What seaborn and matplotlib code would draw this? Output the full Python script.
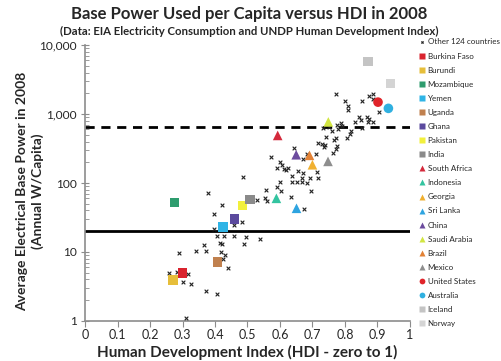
import pandas as pd
import seaborn as sns
import matplotlib.pyplot as plt
from matplotlib.ticker import FixedLocator, LogLocator, NullFormatter

# === Data ===
countries = ["Burkina Faso", "Burundi", "Mozambique", "Yemen", "Uganda", "Ghana",
             "Pakistan", "India", "South Africa", "Indonesia", "Georgia", "Sri Lanka",
             "China", "Saudi Arabia", "Brazil", "Mexico", "United States", "Australia",
             "Iceland", "Norway"]
country_hdi = [0.30, 0.27, 0.275, 0.424, 0.408, 0.46, 0.485, 0.507, 0.593, 0.589,
               0.70, 0.651, 0.65, 0.749, 0.691, 0.748, 0.902, 0.934, 0.872, 0.94]
country_power = [5.0, 3.9, 52, 23, 7.2, 30, 47, 58, 490, 60,
                 184, 43, 257, 770, 252, 206, 1490, 1210, 5800, 2780]
country_marker = ["s"] * 8 + ["^"] * 8 + ["o", "o", "s", "s"]
country_color = ["#D9232E", "#E6BE3A", "#2E9C6E", "#2FB4E6", "#C0804E", "#5B4A9E",
                 "#F2F03C", "#8A8A8A", "#D42A3C", "#33C4A0", "#F0B030", "#2EA4E0",
                 "#6C4C9E", "#D2E642", "#E28236", "#8E8E8E", "#E0242A", "#30B0E0",
                 "#C4C4C4", "#D4D4D4"]

other_hdi = [0.772, 0.80, 0.811, 0.811, 0.853, 0.874, 0.888, 0.888, 0.905, 0.868,
             0.873, 0.842, 0.831, 0.851, 0.888, 0.872, 0.852, 0.732, 0.819, 0.815,
             0.773, 0.808, 0.742, 0.766, 0.716, 0.728, 0.738, 0.735, 0.777, 0.772,
             0.764, 0.642, 0.682, 0.71, 0.573, 0.672, 0.60, 0.607, 0.592, 0.613,
             0.626, 0.618, 0.657, 0.714, 0.672, 0.638, 0.667, 0.693, 0.717, 0.637,
             0.654, 0.668, 0.683, 0.60, 0.487, 0.592, 0.558, 0.603, 0.695, 0.379,
             0.555, 0.561, 0.529, 0.634, 0.422, 0.396, 0.482, 0.458, 0.674, 0.398,
             0.405, 0.429, 0.458, 0.494, 0.537, 0.415, 0.421, 0.367, 0.34, 0.373,
             0.29, 0.418, 0.43, 0.426, 0.489, 0.44, 0.257, 0.284, 0.317, 0.30,
             0.327, 0.372, 0.407, 0.31, 0.777, 0.787, 0.792, 0.778, 0.759, 0.751]
other_power = [1950, 1540, 1306, 1143, 1530, 1806, 1933, 1633, 1059, 896,
               848, 896, 766, 811, 773, 766, 621, 621, 573, 513,
               454, 445, 469, 420, 376, 364, 355, 336, 345, 307,
               269, 318, 263, 263, 240, 220, 204, 182, 167, 158,
               167, 154, 151, 146, 138, 126, 117, 118, 118, 104,
               104, 104, 101, 104, 121, 88, 78, 77, 76, 71,
               60, 54, 56, 63, 48, 35, 27.5, 24.6, 42, 21.5,
               17, 17.3, 17, 16.5, 15.3, 13.6, 13, 12.6, 10.2, 10.5,
               9.6, 9.9, 9.0, 7.8, 13, 5.9, 5.0, 5.1, 4.85, 3.64,
               3.4, 2.7, 2.44, 1.09, 700, 740, 680, 600, 560, 640]

ref_high = 660
ref_low = 20

x_ticks = [0, 0.1, 0.2, 0.3, 0.4, 0.5, 0.6, 0.7, 0.8, 0.9, 1]
x_tick_labels = ["0", "0.1", "0.2", "0.3", "0.4", "0.5", "0.6", "0.7", "0.8", "0.9", "1"]
y_ticks = [1, 10, 100, 1000, 10000]
y_tick_labels = ["1", "10", "100", "1,000", "10,000"]

# === Build tables ===
named_df = pd.DataFrame({"Country": countries, "HDI": country_hdi, "Power": country_power})
other_df = pd.DataFrame({"HDI": other_hdi, "Power": other_power})

sns.set_style("white")
plt.rcParams["font.family"] = ["Lato", "DejaVu Sans"]

fig = plt.figure(figsize=(5.01, 3.61), dpi=100)
ax = fig.add_axes([0.170, 0.111, 0.648, 0.764])

sns.scatterplot(data=other_df, x="HDI", y="Power", marker="x", color="#222222",
                s=7, linewidth=0.8, label="Other 124 countries", ax=ax, zorder=3)
sns.scatterplot(data=named_df, x="HDI", y="Power", hue="Country", style="Country",
                palette=dict(zip(countries, country_color)),
                markers=dict(zip(countries, country_marker)),
                s=48, edgecolor="none", ax=ax, zorder=4)

ax.axhline(ref_high, color="black", lw=2.0, linestyle=(0, (3.3, 2.4)), zorder=2)
ax.axhline(ref_low, color="black", lw=2.0, zorder=2)

ax.set_yscale("log")
ax.set_xlim(0, 1)
ax.set_ylim(1, 10000)
ax.xaxis.set_major_locator(FixedLocator(x_ticks))
ax.set_xticklabels(x_tick_labels)
ax.yaxis.set_major_locator(FixedLocator(y_ticks))
ax.set_yticklabels(y_tick_labels)
ax.yaxis.set_minor_locator(LogLocator(base=10, subs=range(2, 10)))
ax.yaxis.set_minor_formatter(NullFormatter())

for side in ["top", "right"]:
    ax.spines[side].set_visible(False)
for side in ["left", "bottom"]:
    ax.spines[side].set_color("#8C8C8C")
    ax.spines[side].set_linewidth(1.2)
ax.tick_params(axis="x", which="major", direction="out", length=4, color="#8C8C8C",
               labelsize=9, pad=2, bottom=True)
ax.tick_params(axis="y", which="major", direction="inout", length=6, color="#8C8C8C",
               labelsize=8.6, pad=3, left=True)
ax.tick_params(axis="y", which="minor", direction="in", length=3, color="#8C8C8C", left=True)

ax.set_xlabel("Human Development Index (HDI - zero to 1)", fontsize=11,
              fontweight="bold", labelpad=3)
ax.set_ylabel("Average Electrical Base Power in 2008\n(Annual W/Capita)", fontsize=10,
              fontweight="bold", linespacing=1.3)
ax.yaxis.set_label_coords(-0.128, 0.47)

fig.text(0.497, 0.962, "Base Power Used per Capita versus HDI in 2008",
         ha="center", va="center", fontsize=12, fontweight="bold")
fig.text(0.497, 0.912, "(Data: EIA Electricity Consumption and UNDP Human Development Index)",
         ha="center", va="center", fontsize=8.2, fontweight="bold")

handles, labels = ax.get_legend_handles_labels()
ax.legend(handles, labels, loc="upper left", bbox_to_anchor=(1.018, 1.036),
          frameon=False, fontsize=5.8, markerscale=0.6, handlelength=0.8,
          handletextpad=0.3, labelspacing=0.88, borderaxespad=0)

plt.savefig("out.png", dpi=100)
plt.close()
